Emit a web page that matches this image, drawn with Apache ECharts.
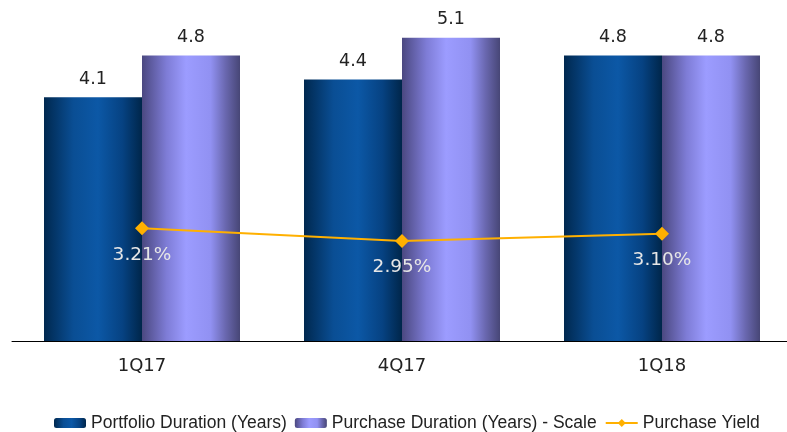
<!DOCTYPE html>
<html><head><meta charset="utf-8">
<script src="https://cdn.jsdelivr.net/npm/echarts@6/dist/echarts.min.js"></script>
<style>html,body{margin:0;padding:0;background:#fff;overflow:hidden}#c{width:800px;height:432px}</style>
</head><body><div id="c"></div>
<script>
const categories = ['1Q17', '4Q17', '1Q18'];
const portfolioDuration = [4.1, 4.4, 4.8];
const purchaseDuration = [4.8, 5.1, 4.8];
const purchaseYield = [3.21, 2.95, 3.10];

const G = echarts.graphic.LinearGradient;
const portfolioColor = new G(0, 0, 1, 0, [
  {offset: 0, color: '#00284f'}, {offset: 0.3, color: '#0a4e94'},
  {offset: 0.55, color: '#0c58a6'}, {offset: 0.8, color: '#064282'},
  {offset: 1, color: '#00264a'}]);
const purchaseColor = new G(0, 0, 1, 0, [
  {offset: 0, color: '#4b4880'}, {offset: 0.25, color: '#7e7cd6'},
  {offset: 0.45, color: '#9c9cff'}, {offset: 0.7, color: '#9191f2'},
  {offset: 0.85, color: '#6a68b0'}, {offset: 1, color: '#474676'}]);

const chart = echarts.init(document.getElementById('c'));
chart.setOption({
  animation: false,
  textStyle: {fontFamily: 'DejaVu Sans'},
  grid: {left: 12, width: 780, top: 14, bottom: 91},
  legend: {
    top: 409, left: 49, itemWidth: 32, itemHeight: 10, itemGap: 8,
    textStyle: {fontSize: 17.5, color: '#222', fontFamily: 'Liberation Sans'},
    data: ['Portfolio Duration (Years)', 'Purchase Duration (Years) - Scale', 'Purchase Yield']
  },
  xAxis: {
    type: 'category', data: categories,
    axisLine: {lineStyle: {color: '#000', width: 1}},
    axisTick: {show: false},
    axisLabel: {fontSize: 18, color: '#222', margin: 16}
  },
  yAxis: [
    {type: 'value', min: 0, max: 5.5, show: false, splitLine: {show: false}},
    {type: 'value', min: 0.9, max: 7.6, show: false, splitLine: {show: false}}
  ],
  series: [
    {name: 'Portfolio Duration (Years)', type: 'bar', data: portfolioDuration,
     barWidth: 98, barGap: '0%', itemStyle: {color: portfolioColor},
     label: {show: true, position: 'top', fontSize: 17.5, color: '#222', distance: 9,
       formatter: p => p.value.toFixed(1)}},
    {name: 'Purchase Duration (Years) - Scale', type: 'bar', data: purchaseDuration,
     barWidth: 98, barGap: '0%', itemStyle: {color: purchaseColor},
     label: {show: true, position: 'top', fontSize: 17.5, color: '#222', distance: 9,
       formatter: p => p.value.toFixed(1)}},
    {name: 'Purchase Yield', type: 'line', yAxisIndex: 1, data: purchaseYield,
     symbol: 'diamond', symbolSize: 14,
     lineStyle: {color: '#ffb000', width: 2}, itemStyle: {color: '#ffb000'},
     label: {show: true, position: 'bottom', distance: 10, fontSize: 18.5, color: '#e6e6e6',
       formatter: p => p.value.toFixed(2) + '%'}}
  ]
});
</script></body></html>
